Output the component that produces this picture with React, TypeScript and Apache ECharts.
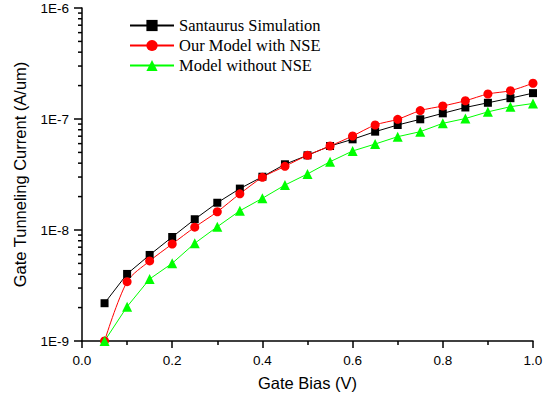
import React, { useEffect, useRef } from "react";
import * as echarts from "echarts";

const gateBias = [0.05, 0.1, 0.15, 0.2, 0.25, 0.3, 0.35, 0.4, 0.45, 0.5, 0.55, 0.6, 0.65, 0.7, 0.75, 0.8, 0.85, 0.9, 0.95, 1.0];
const santaurus = [2.19e-9, 4.02e-9, 5.96e-9, 8.65e-9, 1.25e-8, 1.76e-8, 2.36e-8, 3.02e-8, 3.91e-8, 4.71e-8, 5.71e-8, 6.56e-8, 7.69e-8, 8.83e-8, 9.94e-8, 1.125e-7, 1.27e-7, 1.40e-7, 1.54e-7, 1.71e-7];
const modelNSE = [1.0e-9, 3.42e-9, 5.26e-9, 7.48e-9, 1.06e-8, 1.46e-8, 2.12e-8, 2.98e-8, 3.75e-8, 4.71e-8, 5.71e-8, 7.03e-8, 8.83e-8, 9.94e-8, 1.19e-7, 1.31e-7, 1.46e-7, 1.68e-7, 1.80e-7, 2.10e-7];
const modelNoNSE = [1.0e-9, 2.04e-9, 3.62e-9, 5.01e-9, 7.59e-9, 1.07e-8, 1.49e-8, 1.93e-8, 2.54e-8, 3.2e-8, 4.12e-8, 5.15e-8, 5.95e-8, 6.93e-8, 7.69e-8, 9.14e-8, 1.01e-7, 1.16e-7, 1.29e-7, 1.38e-7];
const seriesNames = ["Santaurus Simulation", "Our Model with NSE", "Model without NSE"];
const yDecades = [1e-9, 1e-8, 1e-7];
const yMinorMultipliers = [2, 3, 4, 5, 6, 7, 8, 9];

export default function App() {
  const ref = useRef<HTMLDivElement>(null);
  useEffect(() => {
    if (!ref.current) return;
    const chart = echarts.init(ref.current, null, { renderer: "svg" });
    const pair = (ys: number[]) => gateBias.map((x, i) => [x, ys[i]]);
    const minorTicks: number[][] = [];
    yDecades.forEach((d) => yMinorMultipliers.forEach((m) => minorTicks.push([0, d * m])));
    const sans = "Liberation Sans";
    chart.setOption({
      animation: false,
      backgroundColor: "#fff",
      grid: { left: 82, right: 16, top: 8, bottom: 57 },
      legend: {
        data: seriesNames,
        orient: "vertical",
        left: 129,
        top: 17,
        padding: 0,
        itemWidth: 44,
        itemHeight: 14,
        itemGap: 3,
        textStyle: { fontFamily: "Liberation Serif", fontSize: 16.5, color: "#000" },
      },
      xAxis: {
        type: "value",
        min: 0,
        max: 1,
        interval: 0.2,
        name: "Gate Bias (V)",
        nameLocation: "middle",
        nameGap: 33,
        nameTextStyle: { fontFamily: sans, fontSize: 16.5, color: "#000" },
        axisLine: { lineStyle: { color: "#000", width: 1.5 } },
        axisTick: { length: 7, lineStyle: { color: "#000", width: 1.5 } },
        minorTick: { show: true, splitNumber: 2, length: 4, lineStyle: { color: "#000", width: 1.5 } },
        splitLine: { show: false },
        axisLabel: {
          fontFamily: sans,
          fontSize: 13.5,
          color: "#000",
          margin: 12,
          formatter: (v: number) => v.toFixed(1),
        },
      },
      yAxis: {
        type: "log",
        logBase: 10,
        min: 1e-9,
        max: 1e-6,
        name: "Gate Tunneling Current (A/um)",
        nameLocation: "middle",
        nameGap: 54,
        nameTextStyle: { fontFamily: sans, fontSize: 16.5, color: "#000" },
        axisLine: { show: true, lineStyle: { color: "#000", width: 1.5 } },
        axisTick: { show: true, length: 8, lineStyle: { color: "#000", width: 1.5 } },
        splitLine: { show: false },
        axisLabel: {
          fontFamily: sans,
          fontSize: 13.5,
          color: "#000",
          margin: 13,
          formatter: (v: number) => "1E" + Math.round(Math.log10(v)),
        },
      },
      series: [
        {
          name: seriesNames[0],
          type: "line",
          data: pair(santaurus),
          symbol: "rect",
          symbolSize: 8,
          color: "#000",
          lineStyle: { color: "#000", width: 1 },
          itemStyle: { color: "#000" },
        },
        {
          name: seriesNames[1],
          type: "line",
          data: pair(modelNSE),
          smooth: 0.3,
          symbol: "circle",
          symbolSize: 9,
          color: "#ff0000",
          lineStyle: { color: "#ff0000", width: 1 },
          itemStyle: { color: "#ff0000" },
        },
        {
          name: seriesNames[2],
          type: "line",
          data: pair(modelNoNSE),
          symbol: "triangle",
          symbolSize: 10,
          color: "#00ff00",
          lineStyle: { color: "#00ff00", width: 1 },
          itemStyle: { color: "#00ff00" },
        },
        {
          name: "yMinorTicks",
          type: "custom",
          clip: false,
          silent: true,
          data: minorTicks,
          renderItem: (params: any, api: any) => {
            const p = api.coord([api.value(0), api.value(1)]);
            return {
              type: "line",
              shape: { x1: p[0] - 4, y1: p[1], x2: p[0], y2: p[1] },
              style: { stroke: "#000", lineWidth: 1.5 },
            };
          },
        },
      ],
    });
    return () => chart.dispose();
  }, []);
  return <div ref={ref} style={{ position: "fixed", left: 0, top: 0, width: 549, height: 398 }} />;
}
